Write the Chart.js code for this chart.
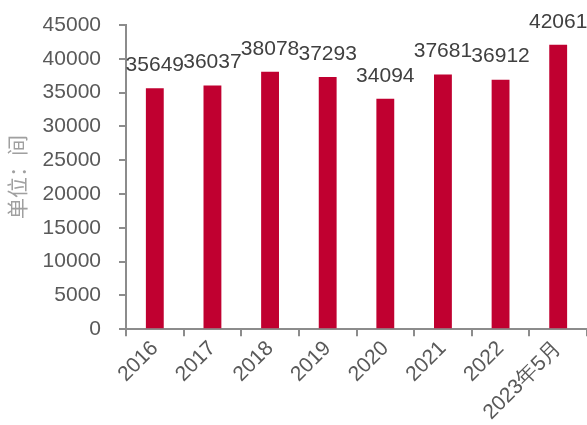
<!DOCTYPE html>
<html>
<head>
<meta charset="utf-8">
<script src="https://cdn.jsdelivr.net/npm/chart.js@4"></script>
<style>
  body { margin: 0; background: #fff; }
  #wrap { width: 587px; height: 425px; }
</style>
</head>
<body>
<div id="wrap"><canvas id="hotelChart"></canvas></div>
<script>
// -------------------------
// Data
// -------------------------
const years = ['2016', '2017', '2018', '2019', '2020', '2021', '2022', '2023年5月'];
const hotelCount = [35649, 36037, 38078, 37293, 34094, 37681, 36912, 42061];
const yTicks = [0, 5000, 10000, 15000, 20000, 25000, 30000, 35000, 40000, 45000];

const baseFont = '"Liberation Sans", Arial, sans-serif';

// value labels above each bar
const barLabels = {
    id: 'barLabels',
    afterDatasetsDraw(chart, args, opts) {
        const ctx = chart.ctx;
        const meta = chart.getDatasetMeta(0);
        ctx.save();
        ctx.font = '21px ' + baseFont;
        ctx.fillStyle = '#404040';
        ctx.textAlign = 'center';
        ctx.textBaseline = 'middle';
        meta.data.forEach((bar, i) => {
            ctx.fillText(hotelCount[i], bar.x, bar.y - opts.lift);
        });
        ctx.restore();
    }
};

const axisGray = '#8c8c8c';
const tickFont = { family: baseFont, size: 21 };

new Chart(document.getElementById('hotelChart'), {
    type: 'bar',
    data: {
        labels: years,
        datasets: [{
            data: hotelCount,
            backgroundColor: '#c00030',
            barPercentage: 0.62,
            categoryPercentage: 0.5
        }]
    },
    options: {
        responsive: true,
        maintainAspectRatio: false,
        animation: false,
        layout: { padding: { top: 25, right: 0, left: 4, bottom: 0 } },
        plugins: {
            legend: { display: false },
            tooltip: { enabled: false },
            barLabels: { lift: 23 }
        },
        scales: {
            x: {
                // rotated labels may hang past the y axis, don't reserve room for them
                afterFit: s => { s.paddingLeft = 0; s.paddingRight = 0; },
                grid: { display: true, drawOnChartArea: false, color: axisGray, lineWidth: 2, tickLength: 7, offset: true },
                border: { color: axisGray, width: 2 },
                ticks: { color: '#595959', font: tickFont, minRotation: 45, maxRotation: 45, padding: 0 }
            },
            y: {
                min: 0,
                max: 45000,
                afterFit: s => { s.width = 122; s.paddingTop = 0; s.paddingBottom = 0; },
                afterBuildTicks: axis => { axis.ticks = yTicks.map(v => ({ value: v })); },
                grid: { display: true, drawOnChartArea: false, color: axisGray, lineWidth: 2, tickLength: 7 },
                border: { color: axisGray, width: 2 },
                ticks: { color: '#595959', font: tickFont, padding: 18, callback: v => String(v) },
                title: {
                    display: true,
                    text: '单位：间',
                    color: '#a0a0a0',
                    font: { family: '"Noto Sans CJK SC", sans-serif', size: 21 },
                    padding: { top: 0, bottom: 6 }
                }
            }
        }
    },
    plugins: [barLabels]
});
</script>
</body>
</html>
